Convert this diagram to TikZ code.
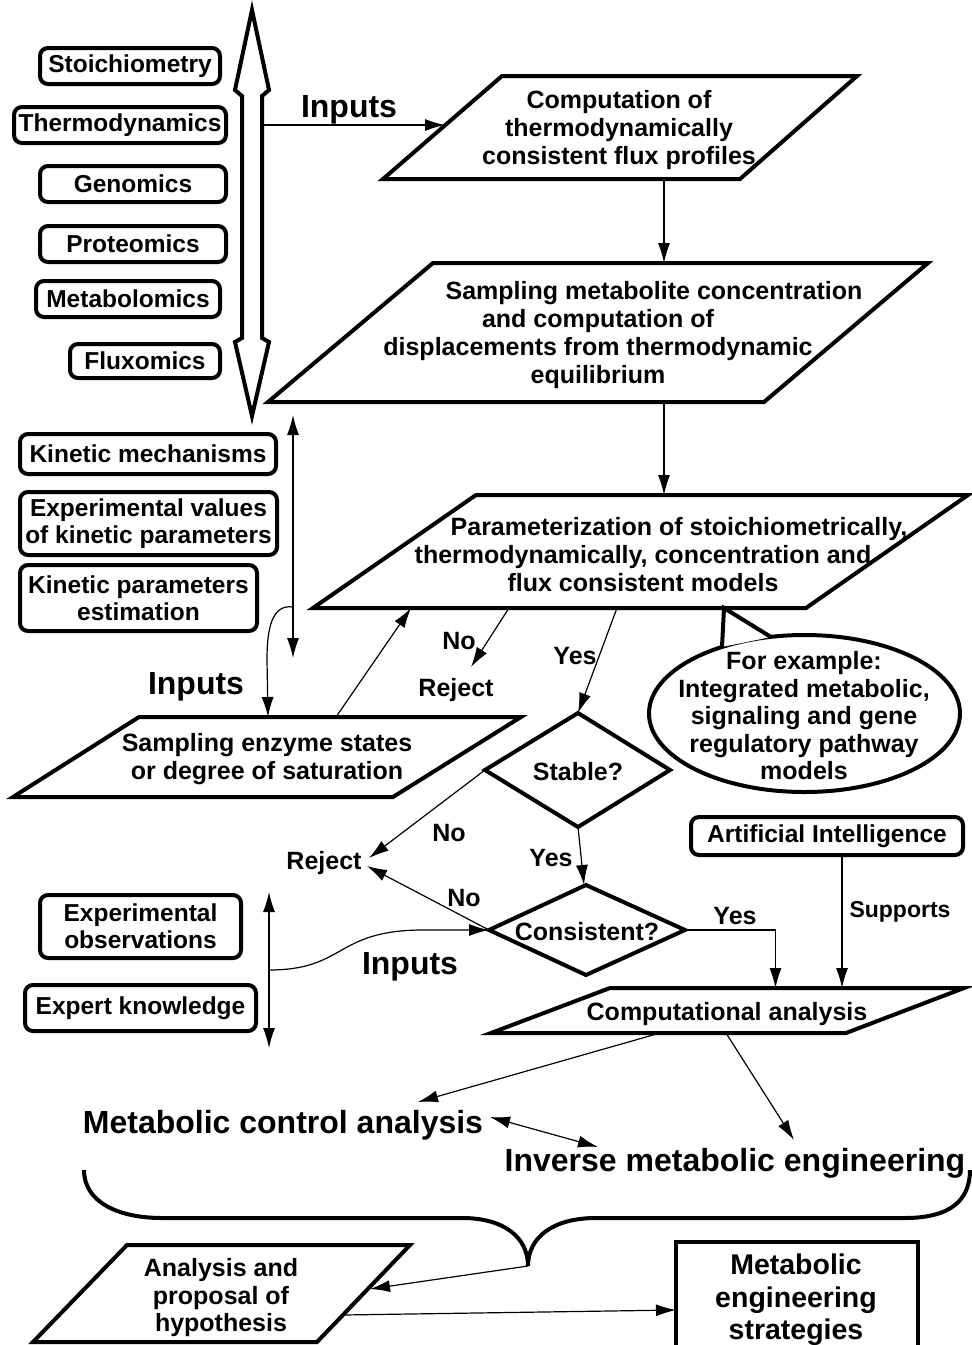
\documentclass[tikz,border=0pt]{standalone}
\usepackage{fontspec}
\setmainfont{Liberation Sans}
\usetikzlibrary{arrows.meta}
\begin{document}
\begin{tikzpicture}[x=1pt,y=-1pt,
  >={Latex[length=20pt,width=12pt]},
  shapeline/.style={line width=4pt, line join=miter},
  rbox/.style={draw, line width=4pt, rounded corners=8pt, inner sep=0pt, align=center,
    font=\bfseries\fontsize{24.5}{27}\selectfont},
  conn/.style={line width=1.2pt, ->},
  dconn/.style={line width=1.2pt, <->},
  txt/.style={inner sep=0pt, align=center, yshift=-2pt, font=\bfseries\fontsize{25}{28}\selectfont},
  lbl/.style={inner sep=0pt, yshift=-1.5pt, font=\bfseries\fontsize{25}{28}\selectfont},
  big/.style={inner sep=0pt, yshift=-2pt, font=\bfseries\fontsize{32}{36}\selectfont},
]
\useasboundingbox (0,0) rectangle (972,1345);

% ---------- big double arrow ----------
\draw[shapeline] (252,10) -- (269,90) -- (262,96) -- (262,338) -- (269,342) -- (252,416)
  -- (235,342) -- (242,338) -- (242,96) -- (235,90) -- cycle;
\coordinate (bigR) at (262,125);

% ---------- left input boxes ----------
\node[rbox, minimum width=180pt, minimum height=36pt] (stoi) at (130,66) {Stoichiometry};
\node[rbox, minimum width=212pt, minimum height=36pt] (thermo) at (120,125) {Thermodynamics};
\node[rbox, minimum width=186pt, minimum height=36pt] (geno) at (133,184) {Genomics};
\node[rbox, minimum width=186pt, minimum height=36pt] (prot) at (133,244) {Proteomics};
\node[rbox, minimum width=184pt, minimum height=36pt] (metab) at (128,299) {Metabolomics};
\node[rbox, minimum width=150pt, minimum height=34pt] (flux) at (145,361) {Fluxomics};

\node[rbox, minimum width=256pt, minimum height=40pt] (kinmech) at (148,454) {Kinetic mechanisms};
\node[rbox, minimum width=257pt, minimum height=63pt] (expval) at (148.5,523.5) {Experimental values\\of kinetic parameters};
\node[rbox, minimum width=237pt, minimum height=66pt] (kinest) at (138.5,598) {Kinetic parameters\\estimation};

\node[rbox, minimum width=201pt, minimum height=63pt] (expobs) at (140.5,926.5) {Experimental\\observations};
\node[rbox, minimum width=231pt, minimum height=46pt] (expknow) at (140.5,1008) {Expert knowledge};

\node[rbox, minimum width=272pt, minimum height=38pt] (ai) at (827,836) {Artificial Intelligence};

% ---------- callout ellipse ----------
\draw[line width=4pt] (804.5,713.5) ellipse [x radius=155.5, y radius=78.5];
\coordinate (tailA) at (724,608);
\coordinate (tailB) at (722,647);
\coordinate (tailC) at (771,637);
\fill[white] (tailA) -- (tailB) -- (tailC) -- cycle;
\draw[shapeline] (tailB) -- (tailA) -- (tailC);
\node[txt, font=\bfseries\fontsize{25}{27.5}\selectfont] (example) at (804,714)
  {For example:\\Integrated metabolic,\\signaling and gene\\regulatory pathway\\models};

% ---------- parallelograms ----------
\draw[shapeline] (502,76) -- (857,76) -- (740,179) -- (383,179) -- cycle;
\node[txt] (p1) at (619,128) {Computation of\\thermodynamically\\consistent flux profiles};

\draw[shapeline] (433,263) -- (928,263) -- (764,402) -- (268,402) -- cycle;
\node[txt] (p2) at (598,333.5) {\hspace*{112pt}Sampling metabolite concentration\\and computation of\\displacements from thermodynamic\\equilibrium};

\draw[shapeline] (476,495) -- (968,495) -- (806,608) -- (313,608) -- cycle;
\node[txt] (p3) at (643,552.5) {\hspace*{72pt}Parameterization of stoichiometrically,\\thermodynamically, concentration and\\flux consistent models};

\draw[shapeline] (139,717) -- (521,717) -- (393,797) -- (13,797) -- cycle;
\node[txt] (p4) at (267,757.5) {Sampling enzyme states\\or degree of saturation};

\draw[shapeline] (610,988) -- (964,988) -- (846,1033) -- (491,1033) -- cycle;
\node[txt] (comp) at (727,1012) {Computational analysis};

\draw[shapeline] (127,1245) -- (410,1245) -- (317,1342) -- (33,1342) -- cycle;
\node[txt, font=\bfseries\fontsize{25}{27.5}\selectfont] (anal) at (221,1296) {Analysis and\\proposal of\\hypothesis};

% ---------- diamonds ----------
\draw[shapeline] (578,713) -- (670,770) -- (578,827) -- (485,770) -- cycle;
\node[txt] (stable) at (578,770) {Stable?};
\draw[shapeline] (586,885) -- (685,930) -- (586,975) -- (489,930) -- cycle;
\node[txt] (consist) at (587,930) {Consistent?};

% ---------- strategies box ----------
\draw[line width=4pt] (676,1360) -- (676,1242) -- (918,1242) -- (918,1360);
\node[txt, font=\bfseries\fontsize{28.5}{32.5}\selectfont] (mes) at (796,1298) {Metabolic\\engineering\\strategies};

% ---------- brace ----------
\coordinate (braceTip) at (528,1266);
\draw[line width=4pt] (84,1170) .. controls (84,1202) and (118,1218) .. (162,1218)
  -- (462,1218) .. controls (505,1218) and (528,1238) .. (braceTip)
  .. controls (528,1238) and (552,1218) .. (596,1218)
  -- (905,1218) .. controls (948,1218) and (970,1202) .. (970,1170);

% ---------- labels ----------
\node[big] (in1) at (349,108) {Inputs};
\node[big] (in2) at (196,685) {Inputs};
\node[big] (in3) at (410,965) {Inputs};
\node[lbl] (rej1) at (456,689) {Reject};
\node[lbl] (rej2) at (324,862) {Reject};
\node[lbl] (no1) at (459,640) {No};
\node[lbl] (yes1) at (575,655) {Yes};
\node[lbl] (no2) at (449,832) {No};
\node[lbl] (yes2) at (551,857) {Yes};
\node[lbl] (no3) at (464,897) {No};
\node[lbl] (yes3) at (735,915) {Yes};
\node[inner sep=0pt, yshift=-1.5pt, font=\bfseries\fontsize{23}{26}\selectfont] (sup) at (900,910) {Supports};
\node[big] (mca) at (283,1123) {Metabolic control analysis};
\node[big] (ime) at (735,1161) {Inverse metabolic engineering};

% ---------- connection points ----------
\coordinate (p1in) at (445,125);
\coordinate (p1b) at (664,179);
\coordinate (p2t) at (664,263);
\coordinate (p2b) at (664,402);
\coordinate (p3t) at (664,495);
\coordinate (kinTop) at (293,415);
\coordinate (kinBot) at (293,658);
\coordinate (kinMid) at (293,607);
\coordinate (p4in) at (268,717);
\coordinate (p4out) at (336,717);
\coordinate (p3in) at (411,608);
\coordinate (p3no) at (509,608);
\coordinate (rej1tip) at (471,667);
\coordinate (p3yes) at (617,608);
\coordinate (stTop) at (578,713);
\coordinate (stLeft) at (485,770);
\coordinate (stBot) at (578,827);
\coordinate (rej2a) at (369,858);
\coordinate (rej2b) at (367,866);
\coordinate (coTop) at (584,885);
\coordinate (coLeft) at (489,930);
\coordinate (coRight) at (685,930);
\coordinate (compYes) at (775.5,988);
\coordinate (aiBot) at (842,855);
\coordinate (compAI) at (842,988);
\coordinate (obsTop) at (269,892);
\coordinate (obsBot) at (269,1048);
\coordinate (obsMid) at (269,970);
\coordinate (compL) at (660,1033);
\coordinate (compR) at (726,1033);
\coordinate (mcaIn) at (418,1102);
\coordinate (imeIn) at (794,1140);
\coordinate (mcaR) at (490,1117);
\coordinate (imeL) at (598,1147);
\coordinate (analIn) at (370,1289);
\coordinate (analOut) at (343,1315);
\coordinate (mesIn) at (676,1310);

% ---------- connectors ----------
\draw[conn] (bigR) -- (p1in);
\draw[conn] (p1b) -- (p2t);
\draw[conn] (p2b) -- (p3t);
\draw[dconn] (kinTop) -- (kinBot);
\draw[conn] (kinMid) .. controls (272,604) and (267,628) .. (267,660) -- (p4in);
\draw[conn] (p4out) -- (p3in);
\draw[conn] (p3no) -- (rej1tip);
\draw[conn] (p3yes) -- (stTop);
\draw[conn] (stLeft) -- (rej2a);
\draw[conn] (stBot) -- (coTop);
\draw[conn] (coLeft) -- (rej2b);
\draw[conn] (coRight) -| (compYes);
\draw[conn] (aiBot) -- (compAI);
\draw[dconn] (obsTop) -- (obsBot);
\draw[conn] (obsMid) .. controls (345,970) and (335,931) .. (420,930) -- (coLeft);
\draw[conn] (compL) -- (mcaIn);
\draw[conn] (compR) -- (imeIn);
\draw[dconn] (mcaR) -- (imeL);
\draw[conn] (braceTip) -- (analIn);
\draw[conn] (analOut) -- (mesIn);
\end{tikzpicture}
\end{document}
